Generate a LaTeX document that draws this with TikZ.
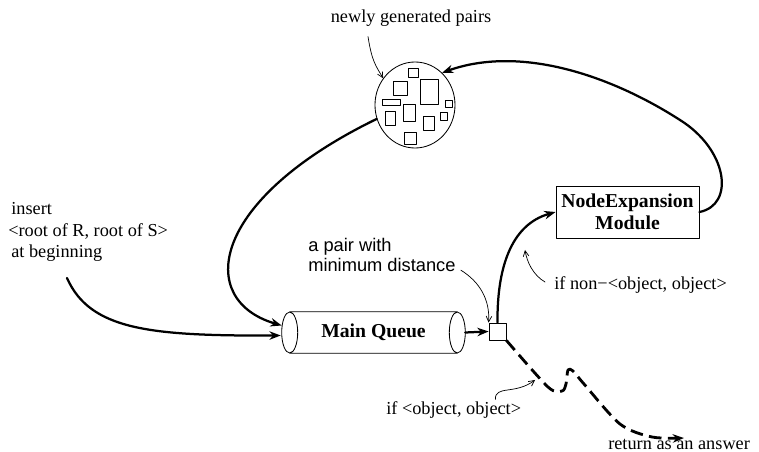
\documentclass[tikz,border=0pt]{standalone}
\usepackage{fontspec}
\setmainfont{Liberation Serif}
\setsansfont{Liberation Sans}
\usetikzlibrary{shapes.geometric,arrows.meta}
\begin{document}
\begin{tikzpicture}[x=0.025cm,y=-0.025cm,line join=round,line cap=round,
        font=\fontsize{13}{15.5}\selectfont,
        flow/.style={line width=1.6pt,-{Stealth[length=8pt,width=6pt]}},
        hint/.style={line width=0.5pt,-{Straight Barb[length=4pt,width=4pt]}},
        answer/.style={flow,line width=2pt,line cap=butt,dash pattern=on 9pt off 4.5pt},
        box/.style={draw,line width=0.6pt,inner sep=0pt},
        title/.style={font=\fontsize{14}{15.5}\selectfont\bfseries},
        lbl/.style={inner sep=0pt,align=left}]
    \useasboundingbox (0,0) rectangle (759,452);
    % pool of new pairs
    \node[box,ellipse,minimum width=2cm,minimum height=2.15cm] (pairs) at (415,105) {};
    \foreach \a/\b/\c/\d in {408/68/418/77,393/81/407/95,420/79/438/104,382/99/400/105,445/100/452/107,
            403/104/415/121,385/111/395/125,440/112/447/120,423/116/434/130,404/132/416/144}
        \draw[line width=0.6pt] (\a,\b) rectangle (\c,\d);
    % queue, picked pair, expansion
    \node[minimum width=4.175cm,minimum height=1.025cm,title] (queue) at (373.5,332.5) {Main Queue};
    \draw[line width=0.6pt] (queue.north west)--(queue.north east) (queue.south west)--(queue.south east)
        (queue.west) ellipse (8 and 20.5) (queue.east) ellipse (8 and 20.5);
    \node[box,minimum size=0.425cm] (pick) at (497.5,331.5) {};
    \node[box,minimum width=3.575cm,minimum height=1.3cm,align=center,title] (expand) at (627.5,212) {NodeExpansion\\Module};
    % labels
    \node[lbl] (newlbl) at (411,18) {newly generated pairs};
    \node[lbl,anchor=west] (insertlbl) at (8,232) {\,insert\\<root of R, root of S>\\\,at beginning};
    \node[lbl,anchor=west,font=\sffamily\fontsize{13}{14.5}\selectfont] (minlbl) at (308,255) {a pair with\\minimum distance};
    \node[lbl,anchor=west] (nonlbl) at (554,285) {if non−<object, object>};
    \node[lbl,anchor=west] (objlbl) at (386,410) {if <object, object>};
    \node[lbl,anchor=west] (retlbl) at (608,444) {return as an answer};
    \coordinate (start) at (67,278);
    \coordinate (nonend) at (525,250);
    \coordinate (objend) at (535,380);
    % thick flows
    \draw[flow] (start) .. controls (90,330) and (150,336) .. ([shift={(-9,3)}]queue.west);
    \draw[flow] (pairs.200) .. controls (210,200) and (195,300) .. ([shift={(-8,-7)}]queue.west);
    \draw[flow] (expand.east) .. controls (735,205) and (728,150) .. (680,120)
        .. controls (610,75) and (520,45) .. (pairs.50);
    \draw[flow] ([shift={(8,0)}]queue.east)--(pick.west);
    \draw[flow] (pick.north) .. controls (497,270) and (510,225) .. (expand.west);
    \draw[answer] plot[smooth,tension=0.5] coordinates {(pick.south east) (548,387) (562,391)
        (566,384) (568,370) (573,371) (584,384) (620,424) (652,437) (684,438)};
    % pointers
    \draw[hint] ([shift={(-43,10)}]newlbl.south) .. controls (372,62) and (376,66) .. (pairs.140);
    \draw[hint] ([shift={(5,-2)}]minlbl.south east) .. controls (480,282) and (490,300) .. (pick.north west);
    \draw[hint] ([shift={(-9,-3)}]nonlbl.west) .. controls (533,275) and (527,262) .. (nonend);
    \draw[hint] ([shift={(-26,-2)}]objlbl.north east) .. controls (495,385) and (515,395) .. (objend);
\end{tikzpicture}
\end{document}
